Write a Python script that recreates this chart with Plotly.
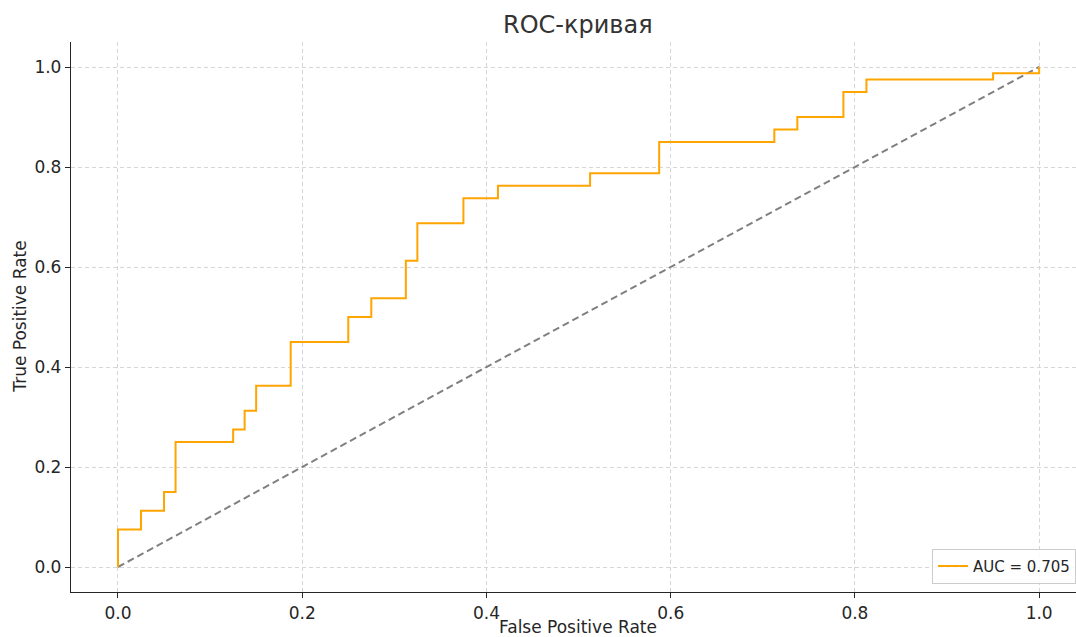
import plotly.graph_objects as go

# ROC curve points (false positive rate, true positive rate)
fpr = [0.0, 0.0, 0.025, 0.05, 0.0625, 0.125, 0.1375, 0.15, 0.1875, 0.25, 0.275,
       0.3125, 0.325, 0.375, 0.4125, 0.5125, 0.5875, 0.7125, 0.7375, 0.7875,
       0.8125, 0.95, 1.0]
tpr = [0.0, 0.075, 0.1125, 0.15, 0.25, 0.275, 0.3125, 0.3625, 0.45, 0.5, 0.5375,
       0.6125, 0.6875, 0.7375, 0.7625, 0.7875, 0.85, 0.875, 0.9, 0.95,
       0.975, 0.9875, 1.0]
auc_label = "AUC = 0.705"

# chance diagonal
diag_x = [0.0, 1.0]
diag_y = [0.0, 1.0]

tick_vals = [0.0, 0.2, 0.4, 0.6, 0.8, 1.0]
tick_text = ["0.0", "0.2", "0.4", "0.6", "0.8", "1.0"]

FONT = "DejaVu Sans"
TEXT = "#262626"

fig = go.Figure()
fig.add_trace(go.Scatter(
    x=diag_x, y=diag_y, mode="lines",
    line=dict(color="#808080", width=2, dash="7px,4px"),
    showlegend=False, hoverinfo="skip",
))
fig.add_trace(go.Scatter(
    x=fpr, y=tpr, mode="lines", name=auc_label,
    line=dict(color="#FFA500", width=2, shape="hv"),
))

axis_common = dict(
    showgrid=True, gridcolor="#d6d6d6", griddash="4px,3px", gridwidth=1,
    zeroline=False, showline=True, linecolor="#262626", linewidth=1.3,
    ticks="outside", ticklen=5, tickwidth=1.2, tickcolor="#262626",
    tickfont=dict(family=FONT, size=17, color=TEXT),
    tickvals=tick_vals, ticktext=tick_text, automargin=False,
)

fig.update_layout(
    width=1076, height=637,
    margin=dict(l=71, r=0, t=42, b=45),
    paper_bgcolor="white", plot_bgcolor="white",
    title=dict(text="ROC-кривая", x=0.537, xanchor="center", y=0.962, yanchor="middle",
               font=dict(family=FONT, size=24, color="#333333")),
    xaxis=dict(range=[-0.051, 1.040], **axis_common),
    yaxis=dict(range=[-0.05, 1.05], **axis_common),
    legend=dict(x=1.0, xanchor="right", y=0.015, yanchor="bottom",
                bgcolor="rgba(255,255,255,0.85)", bordercolor="#cccccc", borderwidth=1,
                font=dict(family=FONT, size=15, color=TEXT)),
    showlegend=True,
)

# axis titles placed in paper coordinates below / left of the plot area
fig.add_annotation(text="False Positive Rate", xref="paper", yref="paper",
                   x=0.5045, y=-0.0636, xanchor="center", yanchor="middle",
                   showarrow=False, font=dict(family=FONT, size=17, color=TEXT))
fig.add_annotation(text="True Positive Rate", xref="paper", yref="paper",
                   x=-0.051, y=0.5, xanchor="center", yanchor="middle", textangle=-90,
                   showarrow=False, font=dict(family=FONT, size=17, color=TEXT))

fig.write_html("out.html")
